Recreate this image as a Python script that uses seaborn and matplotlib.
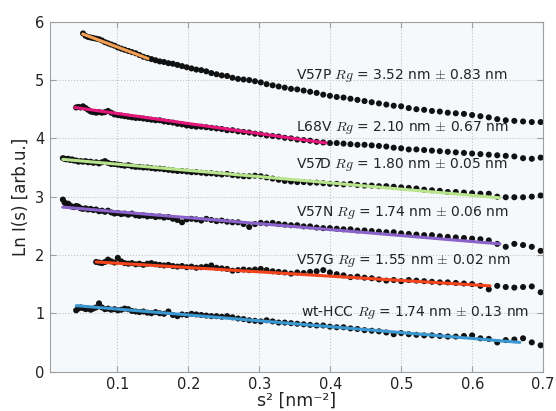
import numpy as np
import pandas as pd
import seaborn as sns
import matplotlib.pyplot as plt

# shared s^2 grid (nm^-2), every curve ends at the last point
s2_grid = [0.0231, 0.0254, 0.0279, 0.0305, 0.0331, 0.0359, 0.0388, 0.0418, 0.0449, 0.0482,
           0.0515, 0.0550, 0.0586, 0.0623, 0.0660, 0.0700, 0.0740, 0.0781, 0.0824, 0.0867,
           0.0912, 0.0958, 0.1005, 0.1053, 0.1102, 0.1153, 0.1204, 0.1257, 0.1310, 0.1365,
           0.1421, 0.1478, 0.1537, 0.1596, 0.1656, 0.1718, 0.1781, 0.1845, 0.1910, 0.1976,
           0.2043, 0.2111, 0.2181, 0.2252, 0.2323, 0.2396, 0.2470, 0.2545, 0.2621, 0.2699,
           0.2777, 0.2857, 0.2938, 0.3020, 0.3102, 0.3187, 0.3272, 0.3358, 0.3446, 0.3534,
           0.3624, 0.3715, 0.3807, 0.3900, 0.3994, 0.4090, 0.4186, 0.4284, 0.4382, 0.4482,
           0.4583, 0.4685, 0.4789, 0.4893, 0.4998, 0.5105, 0.5213, 0.5322, 0.5432, 0.5543,
           0.5655, 0.5768, 0.5883, 0.5998, 0.6115, 0.6233, 0.6352, 0.6472, 0.6593, 0.6716,
           0.6839, 0.6964]

# ln I(s) per mutant
lnI_V57P = [5.80, 5.76, 5.74, 5.73, 5.72, 5.71, 5.70, 5.68, 5.65, 5.63,
            5.61, 5.59, 5.56, 5.54, 5.52, 5.50, 5.48, 5.46, 5.43, 5.40,
            5.38, 5.36, 5.34, 5.32, 5.31, 5.29, 5.28, 5.26, 5.24, 5.22,
            5.20, 5.18, 5.17, 5.15, 5.12, 5.10, 5.08, 5.07, 5.04, 5.02,
            5.01, 5.00, 4.98, 4.96, 4.93, 4.91, 4.89, 4.87, 4.85, 4.84,
            4.82, 4.80, 4.78, 4.75, 4.73, 4.71, 4.70, 4.68, 4.66, 4.64,
            4.62, 4.60, 4.58, 4.56, 4.55, 4.52, 4.50, 4.49, 4.47, 4.46,
            4.44, 4.43, 4.42, 4.40, 4.38, 4.36, 4.33, 4.31, 4.30, 4.29,
            4.28, 4.28]
lnI_L68V = [4.53, 4.54, 4.53, 4.55, 4.52, 4.49, 4.46, 4.45, 4.44, 4.45,
            4.44, 4.45, 4.47, 4.44, 4.41, 4.40, 4.39, 4.38, 4.37, 4.36,
            4.35, 4.35, 4.34, 4.33, 4.32, 4.31, 4.31, 4.29, 4.28, 4.27,
            4.25, 4.24, 4.22, 4.21, 4.20, 4.20, 4.19, 4.18, 4.17, 4.16,
            4.14, 4.14, 4.12, 4.11, 4.10, 4.08, 4.07, 4.05, 4.04, 4.03,
            4.01, 4.00, 3.98, 3.97, 3.96, 3.94, 3.93, 3.92, 3.92, 3.91,
            3.90, 3.89, 3.89, 3.88, 3.87, 3.86, 3.84, 3.83, 3.81, 3.81,
            3.80, 3.79, 3.78, 3.77, 3.76, 3.75, 3.74, 3.73, 3.72, 3.71,
            3.70, 3.69, 3.66, 3.65, 3.67]
lnI_V57D = [3.66, 3.65, 3.64, 3.65, 3.63, 3.64, 3.62, 3.62, 3.60, 3.61,
            3.60, 3.61, 3.59, 3.60, 3.58, 3.59, 3.57, 3.59, 3.61, 3.58,
            3.56, 3.56, 3.55, 3.54, 3.53, 3.54, 3.52, 3.51, 3.51, 3.50,
            3.50, 3.49, 3.48, 3.48, 3.47, 3.46, 3.45, 3.44, 3.44, 3.43,
            3.42, 3.42, 3.41, 3.40, 3.40, 3.39, 3.38, 3.39, 3.37, 3.36,
            3.35, 3.35, 3.36, 3.35, 3.33, 3.31, 3.29, 3.27, 3.26, 3.25,
            3.25, 3.24, 3.24, 3.23, 3.22, 3.22, 3.21, 3.22, 3.20, 3.19,
            3.19, 3.18, 3.18, 3.17, 3.16, 3.15, 3.14, 3.12, 3.11, 3.10,
            3.08, 3.08, 3.07, 3.06, 3.05, 3.05, 3.00, 2.99, 2.99, 2.99,
            3.00, 3.02]
lnI_V57N = [2.95, 2.90, 2.87, 2.88, 2.85, 2.83, 2.82, 2.84, 2.83, 2.80,
            2.79, 2.80, 2.78, 2.79, 2.77, 2.78, 2.75, 2.76, 2.74, 2.76,
            2.73, 2.71, 2.72, 2.70, 2.71, 2.69, 2.71, 2.68, 2.67, 2.68,
            2.66, 2.67, 2.65, 2.66, 2.64, 2.65, 2.62, 2.60, 2.56, 2.61,
            2.62, 2.61, 2.59, 2.62, 2.60, 2.58, 2.59, 2.57, 2.56, 2.56,
            2.53, 2.48, 2.53, 2.55, 2.54, 2.55, 2.53, 2.52, 2.51, 2.51,
            2.49, 2.49, 2.47, 2.46, 2.46, 2.45, 2.44, 2.44, 2.42, 2.42,
            2.41, 2.40, 2.39, 2.39, 2.37, 2.36, 2.35, 2.34, 2.34, 2.32,
            2.31, 2.30, 2.29, 2.28, 2.27, 2.25, 2.19, 2.14, 2.19, 2.17,
            2.14, 2.07]
lnI_V57G = [1.88, 1.87, 1.86, 1.88, 1.92, 1.89, 1.87, 1.95, 1.89, 1.86,
            1.85, 1.86, 1.84, 1.85, 1.83, 1.85, 1.86, 1.84, 1.83, 1.82,
            1.83, 1.81, 1.80, 1.81, 1.79, 1.80, 1.78, 1.79, 1.80, 1.82,
            1.78, 1.77, 1.76, 1.73, 1.74, 1.75, 1.74, 1.75, 1.76, 1.74,
            1.72, 1.71, 1.70, 1.68, 1.70, 1.69, 1.71, 1.72, 1.74, 1.70,
            1.67, 1.65, 1.62, 1.63, 1.61, 1.60, 1.58, 1.56, 1.57, 1.55,
            1.57, 1.56, 1.55, 1.54, 1.53, 1.53, 1.52, 1.51, 1.50, 1.47,
            1.41, 1.47, 1.45, 1.44, 1.45, 1.46, 1.36]
lnI_wtHCC = [1.05, 1.08, 1.10, 1.09, 1.07, 1.08, 1.06, 1.08, 1.10, 1.17,
             1.10, 1.07, 1.08, 1.06, 1.07, 1.05, 1.06, 1.08, 1.07, 1.04,
             1.03, 1.02, 1.03, 1.01, 1.00, 1.02, 1.00, 0.99, 1.03, 0.97,
             0.95, 0.98, 0.97, 0.99, 0.98, 0.97, 0.96, 0.95, 0.95, 0.94,
             0.95, 0.93, 0.91, 0.90, 0.88, 0.87, 0.86, 0.88, 0.86, 0.84,
             0.84, 0.83, 0.82, 0.81, 0.80, 0.79, 0.79, 0.77, 0.76, 0.76,
             0.74, 0.73, 0.71, 0.70, 0.69, 0.67, 0.64, 0.66, 0.64, 0.63,
             0.62, 0.62, 0.61, 0.60, 0.60, 0.61, 0.62, 0.57, 0.56, 0.50,
             0.54, 0.55, 0.57, 0.50, 0.45]

mutants = ["V57P", "L68V", "V57D", "V57N", "V57G", "wt-HCC"]
curves = [lnI_V57P, lnI_L68V, lnI_V57D, lnI_V57N, lnI_V57G, lnI_wtHCC]

# Guinier fit ranges (s^2 start/end, ln I start/end)
fit_s2 = [(0.051, 0.143), (0.040, 0.394), (0.023, 0.639), (0.023, 0.639), (0.070, 0.625), (0.042, 0.667)]
fit_lnI = [(5.79, 5.37), (4.53, 3.92), (3.64, 2.98), (2.82, 2.19), (1.88, 1.47), (1.13, 0.50)]
fit_colors = ["#f5a052", "#e3167c", "#b8e58c", "#8a62c9", "#f2441d", "#3b97cf"]

rg_values = ["3.52", "2.10", "1.80", "1.74", "1.55", "1.74"]
rg_errors = ["0.83", "0.67", "0.05", "0.06", "0.02", "0.13"]
label_s2 = [0.351, 0.351, 0.351, 0.351, 0.351, 0.358]
label_lnI = [5.07, 4.19, 3.55, 2.72, 1.91, 1.02]

# long tables for seaborn
rows = []
for name, y in zip(mutants, curves):
    xs = s2_grid[len(s2_grid) - len(y):]
    for xv, yv in zip(xs, y):
        rows.append((name, xv, yv))
pdPoints = pd.DataFrame(rows, columns=["mutant", "s2", "lnI"])

fit_rows = []
for name, xr, yr in zip(mutants, fit_s2, fit_lnI):
    fit_rows.append((name, xr[0], yr[0]))
    fit_rows.append((name, xr[1], yr[1]))
pdFit = pd.DataFrame(fit_rows, columns=["mutant", "s2", "lnI"])

sns.set_style("whitegrid", {"axes.facecolor": "#f5f9fb", "grid.linestyle": ":",
                            "grid.color": "#c4c4c4", "axes.edgecolor": "#a0a0a0"})
plt.rcParams["mathtext.fontset"] = "cm"
plt.rcParams["font.family"] = ["DejaVu Sans"]

fig, ax = plt.subplots(figsize=(5.56, 4.11), dpi=100)
fig.subplots_adjust(left=0.09, right=0.977, top=0.947, bottom=0.096)

sns.scatterplot(data=pdPoints, x="s2", y="lnI", ax=ax, color="#111111", s=19,
                edgecolor="none", legend=False, zorder=2)
sns.lineplot(data=pdFit, x="s2", y="lnI", hue="mutant", palette=dict(zip(mutants, fit_colors)),
             ax=ax, linewidth=2.2, legend=False, zorder=3)

for i, name in enumerate(mutants):
    ax.text(label_s2[i], label_lnI[i],
            name + r" $Rg$ = " + rg_values[i] + r" nm $\pm$ " + rg_errors[i] + " nm",
            fontsize=10, va="center", ha="left", color="#222222", zorder=4)

ax.set_xlim(0.005, 0.7)
ax.set_ylim(0, 6)
ax.set_xticks([0.1, 0.2, 0.3, 0.4, 0.5, 0.6, 0.7])
ax.set_yticks([0, 1, 2, 3, 4, 5, 6])
ax.tick_params(direction="in", length=4, color="#a0a0a0", labelsize=10.5, pad=4,
               right=True, top=True, left=True, bottom=True, labelcolor="#222222")
ax.set_xlabel("s² [nm⁻²]", fontsize=12.5, color="#222222", labelpad=0)
ax.set_ylabel("Ln I(s) [arb.u.]", fontsize=12, color="#222222")

fig.savefig("out.png", dpi=100)
